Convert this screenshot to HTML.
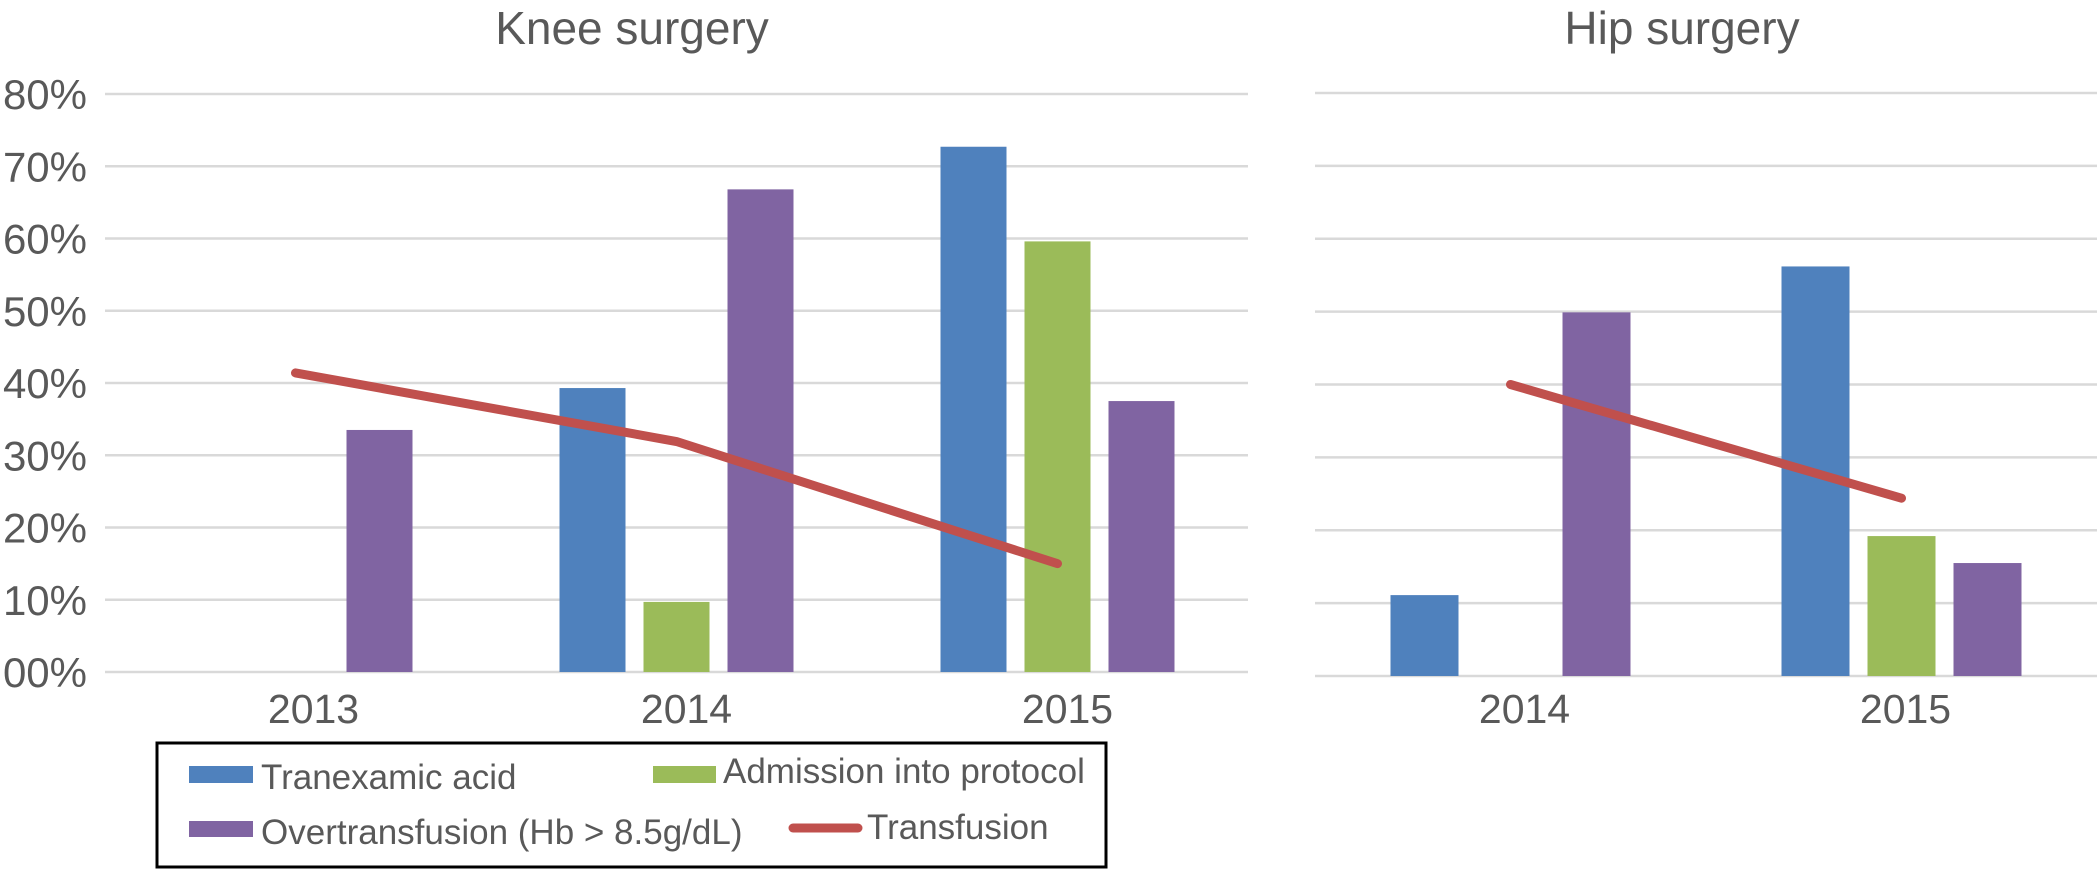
<!DOCTYPE html>
<html><head><meta charset="utf-8"><style>
html,body{margin:0;padding:0;background:#fff;}
svg{display:block;font-family:"Liberation Sans",Arial,sans-serif;}
</style></head><body>
<svg id="chart" width="2098" height="870" viewBox="0 0 2098 870">
<text x="632" y="44" font-size="46" fill="#595959" text-anchor="middle">Knee surgery</text>
<text x="1682" y="44" font-size="46" fill="#595959" text-anchor="middle">Hip surgery</text>
<g id="knee"></g>
<g id="hip"></g>
<g>
<rect x="157" y="743" width="949" height="124" fill="#fff" stroke="#000" stroke-width="3"/>
<rect x="189" y="766" width="64" height="17" fill="#4f81bd"/>
<text x="261" y="789" font-size="35" fill="#595959">Tranexamic acid</text>
<rect x="653" y="766" width="63" height="17" fill="#9bbb59"/>
<text x="723" y="783" font-size="35" fill="#595959">Admission into protocol</text>
<rect x="189" y="821" width="64" height="16" fill="#8064a2"/>
<text x="261" y="844" font-size="35" fill="#595959">Overtransfusion (Hb &gt; 8.5g/dL)</text>
<line x1="793" y1="828" x2="858" y2="828" stroke="#c0504d" stroke-width="9" stroke-linecap="round"/>
<text x="867" y="839" font-size="35" fill="#595959">Transfusion</text>
</g>
</svg>
<script>
const yTicks = [0,10,20,30,40,50,60,70,80];
const yTickLabels = ["00%","10%","20%","30%","40%","50%","60%","70%","80%"];
const kneeCategories = ["2013","2014","2015"];
const kneeTranexamic = [null,39.3,72.7];
const kneeAdmission = [null,9.7,59.6];
const kneeOvertransfusion = [33.5,66.8,37.5];
const kneeTransfusion = [41.4,31.9,15.0];
const hipCategories = ["2014","2015"];
const hipTranexamic = [11.1,56.2];
const hipAdmission = [null,19.2];
const hipOvertransfusion = [49.9,15.5];
const hipTransfusion = [40.0,24.4];

const NS = "http://www.w3.org/2000/svg";
function mk(tag, attrs, parent){
  const e = document.createElementNS(NS, tag);
  for (const k in attrs) e.setAttribute(k, attrs[k]);
  parent.appendChild(e);
  return e;
}
function panel(g, cfg){
  const y = v => cfg.y0 - v/80*(cfg.y0-cfg.y80);
  const cw = (cfg.x1-cfg.x0)/cfg.cats.length;
  const cx = i => cfg.x0 + cw*(i+0.5);
  yTicks.forEach((t,i)=>{
    const l = mk("line",{x1:cfg.x0,x2:cfg.x1,y1:y(t),y2:y(t),stroke:"#d9d9d9","stroke-width":2.5},g);
    
    
    if (cfg.labels){
      const tx = mk("text",{x:87,y:y(t)+15,"font-size":42,fill:"#595959","text-anchor":"end"},g);
      tx.textContent = yTickLabels[i];
      
      
    }
  });
  const series = [[cfg.tx,"#4f81bd","tranexamic"],[cfg.ad,"#9bbb59","admission"],[cfg.ov,"#8064a2","overtransfusion"]];
  series.forEach((s,si)=>{
    s[0].forEach((v,i)=>{
      if (v==null) return;
      const x = cx(i) + (si-1)*cfg.step - cfg.bw/2;
      const r = mk("rect",{x:x,y:y(v),width:cfg.bw,height:y(0)-y(v),fill:s[1]},g);
      
      
    });
  });
  const pts = cfg.tr.map((v,i)=>cx(i)+","+y(v)).join(" ");
  const pl = mk("polyline",{points:pts,fill:"none",stroke:"#c0504d","stroke-width":9,"stroke-linecap":"round","stroke-linejoin":"round"},g);
  
  
  cfg.cats.forEach((c,i)=>{
    const tx = mk("text",{x:cx(i)+cfg.lx[i],y:723,"font-size":41,fill:"#595959","text-anchor":"middle"},g);
    tx.textContent = c;
    
    
  });
}
panel(document.getElementById("knee"),{x0:105,x1:1248,y0:672,y80:94,cats:kneeCategories,tx:kneeTranexamic,ad:kneeAdmission,ov:kneeOvertransfusion,tr:kneeTransfusion,bw:66,step:84,labels:true,lx:[18,10,10]});
panel(document.getElementById("hip"),{x0:1315,x1:2097,y0:676,y80:93,cats:hipCategories,tx:hipTranexamic,ad:hipAdmission,ov:hipOvertransfusion,tr:hipTransfusion,bw:68,step:86,labels:false,lx:[14,4]});
</script>
</body></html>
